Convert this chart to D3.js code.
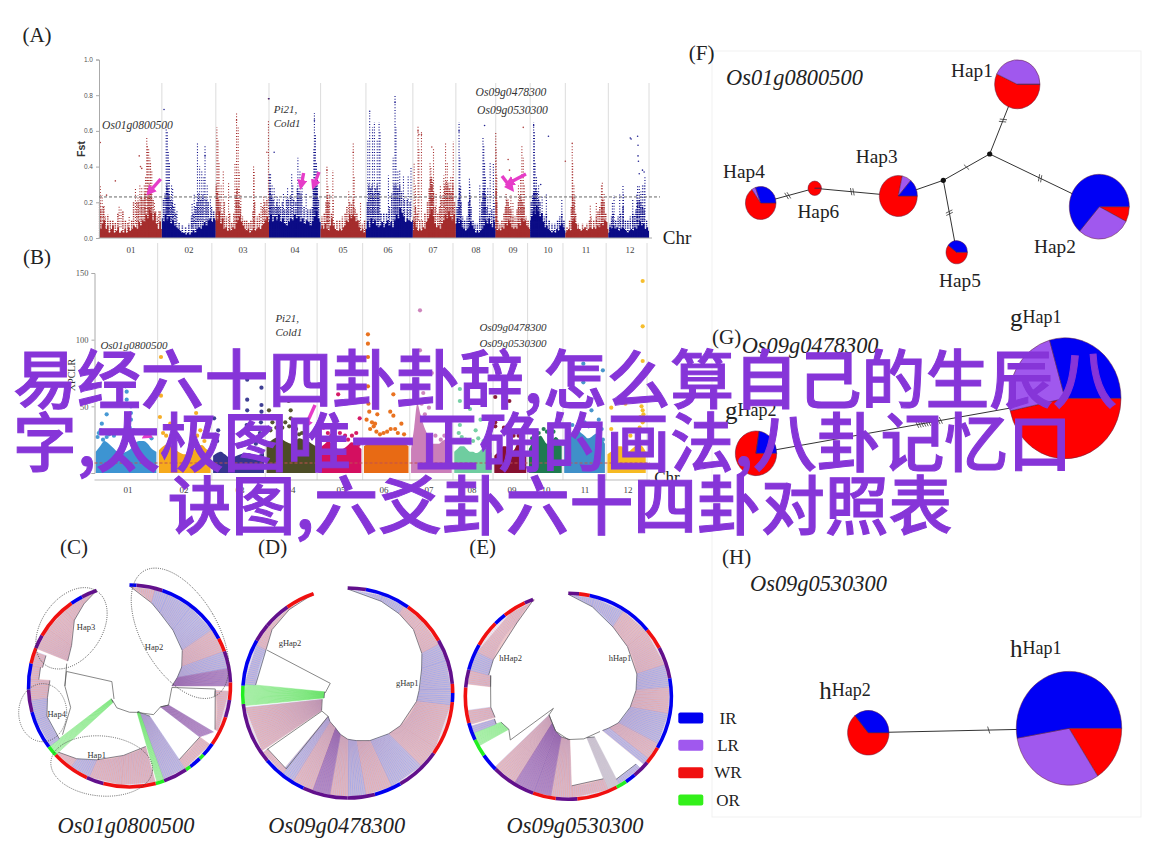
<!DOCTYPE html>
<html><head><meta charset="utf-8">
<script src="https://cdn.jsdelivr.net/npm/d3@7/dist/d3.min.js"></script>
<style>html,body{margin:0;padding:0;background:#fff}svg{display:block}</style>
</head><body><svg id="c" width="1154" height="866"></svg>
<script>
// ---------- Manhattan data ----------
const chromNames=["01","02","03","04","05","06","07","08","09","10","11","12"];
const chromLengths=[40.2,34.5,34,33,29,30,27.5,25.5,22,22.5,27.5,26];
const fstEnvelope=[
[.09,.05,.08,.10,.05,.07,.03,.05,.07,.03,.04,.06,.03,.04,.03,.05,.03,.06,.04,.05,.07,.06,.05,.09,.07,.10,.09,.13,.11,.16,.14,.10,.14,.08,.05,.09,.05],
[.11,.09,.13,.10,.12,.08,.10,.07,.06,.05,.04,.03,.03,.02,.03,.02,.03,.04,.03,.05,.06,.05,.07,.09,.07,.10,.11,.09,.11,.10],
[.14,.10,.15,.08,.11,.05,.06,.04,.05,.04,.06,.05,.08,.10,.12,.09,.07,.05,.04,.05,.03,.04,.05,.04,.05,.06,.05,.07,.08,.10,.12,.09],
[.10,.13,.09,.12,.10,.13,.09,.11,.08,.07,.09,.11,.10,.13,.11,.12,.09,.11,.08,.10,.09,.07,.09,.12,.15,.11,.09],
[.05,.07,.05,.08,.05,.04,.07,.11,.07,.05,.04,.04,.05,.04,.06,.07,.10,.09,.13,.11,.13,.12,.09,.10,.06,.04,.05,.03,.05],
[.05,.09,.06,.11,.08,.10,.07,.06,.07,.09,.06,.08,.10,.07,.09,.06,.10,.13,.11,.17,.14,.12,.09,.11,.10,.09,.10],
[.04,.09,.06,.04,.05,.04,.06,.05,.09,.11,.13,.16,.12,.08,.06,.07,.05,.08,.10,.13,.11,.15,.12,.10,.13,.08],
[.08,.11,.08,.10,.06,.05,.04,.05,.06,.09,.07,.05,.03,.04,.03,.04,.05,.07,.10,.08,.11,.08,.06,.09,.05],
[.05,.04,.05,.04,.06,.05,.08,.07,.10,.08,.06,.05,.06,.05,.08,.07,.11,.09,.10,.07,.06,.05],
[.10,.12,.15,.13,.18,.15,.12,.14,.09,.06,.07,.05,.04,.03,.04,.03,.05,.04,.07,.08,.06,.04],
[.03,.04,.05,.04,.09,.11,.08,.05,.05,.04,.05,.06,.04,.05,.06,.05,.06,.05,.07,.06,.08,.07,.10,.09,.05],
[.03,.06,.05,.07,.05,.06,.04,.05,.06,.05,.04,.03,.04,.05,.04,.06,.05,.07,.09,.07,.08,.05,.06,.04]];
const fstSpeckle=[
[[1,.2],[3,.16],[7,.18],[10,.12],[14,.13],[18,.1],[22,.1],[26,.09],[30,.14],[38,.15],[42,.1],[46,.09],[52,.1],[55,.2],[60,.2],[63,.2],[67,.23],[70,.22],[73,.25],[78,.28],[80,.3],[83,.25],[86,.22],[90,.15],[93,.12],[97,.15]],
[[3,.22],[6,.25],[9,.3],[11,.28],[13,.24],[16,.22],[19,.2],[22,.18],[26,.14],[32,.09],[38,.07],[44,.06],[50,.08],[55,.12],[58,.14],[62,.18],[65,.2],[68,.25],[72,.22],[76,.24],[82,.22],[86,.2],[92,.18],[96,.15]],
[[1,.3],[3,.26],[5,.22],[8,.2],[12,.14],[16,.2],[20,.12],[26,.14],[30,.09],[34,.14],[38,.24],[40,.28],[43,.22],[46,.18],[50,.12],[54,.1],[58,.1],[62,.09],[66,.1],[70,.15],[73,.2],[78,.12],[82,.14],[88,.18],[92,.2],[96,.22]],
[[2,.28],[5,.24],[8,.22],[12,.18],[15,.2],[18,.18],[22,.18],[26,.2],[30,.16],[34,.22],[38,.22],[42,.24],[48,.22],[52,.2],[55,.28],[58,.26],[62,.25],[68,.18],[75,.16],[80,.16],[84,.18],[86,.3],[89,.32],[91,.3],[93,.28],[96,.22]],
[[3,.12],[8,.14],[12,.2],[15,.24],[18,.2],[24,.14],[30,.09],[36,.1],[42,.1],[48,.12],[54,.14],[58,.18],[64,.2],[68,.19],[72,.22],[76,.17],[80,.14],[85,.1],[92,.08],[97,.1]],
[[3,.2],[6,.3],[10,.28],[13,.3],[16,.25],[20,.28],[24,.3],[27,.26],[32,.14],[38,.14],[44,.14],[50,.18],[55,.25],[60,.3],[64,.3],[68,.28],[72,.3],[76,.26],[82,.22],[88,.22],[94,.2]],
[[2,.12],[6,.18],[10,.14],[16,.1],[22,.1],[28,.14],[34,.2],[38,.28],[41,.33],[43,.34],[45,.3],[48,.26],[52,.18],[58,.14],[62,.18],[66,.22],[70,.24],[74,.3],[78,.32],[81,.3],[85,.28],[89,.26],[93,.3],[97,.2]],
[[3,.18],[6,.22],[9,.28],[13,.2],[17,.12],[22,.1],[28,.12],[32,.2],[35,.24],[38,.18],[43,.1],[48,.08],[54,.08],[60,.12],[65,.2],[68,.26],[71,.28],[74,.24],[78,.18],[84,.14],[90,.16],[95,.12]],
[[1,.28],[3,.2],[6,.1],[12,.08],[18,.1],[24,.14],[28,.18],[32,.22],[36,.2],[40,.18],[44,.16],[50,.12],[56,.12],[62,.16],[66,.2],[70,.24],[74,.22],[78,.2],[82,.18],[88,.12],[94,.1]],
[[3,.2],[7,.24],[10,.26],[13,.26],[16,.28],[20,.26],[24,.22],[28,.2],[34,.14],[40,.12],[46,.14],[54,.1],[62,.08],[70,.08],[78,.1],[84,.12],[90,.14],[96,.1]],
[[4,.06],[10,.1],[14,.18],[17,.24],[20,.2],[24,.14],[30,.08],[40,.08],[50,.08],[56,.1],[60,.12],[66,.1],[72,.12],[76,.15],[80,.18],[84,.2],[87,.22],[90,.2],[94,.14]],
[[4,.08],[8,.12],[12,.14],[18,.1],[24,.12],[30,.14],[36,.18],[42,.1],[48,.1],[54,.12],[60,.14],[64,.13],[68,.16],[72,.2],[76,.22],[80,.2],[84,.18],[88,.16],[94,.1]]];
const fstStems=[
[[2,.08,.30],[5,.08,.24],[8,.08,.18],[32,.06,.18],[35,.06,.17],[48,.05,.12],[58,.08,.28],[62,.08,.24],[65,.1,.3],[68,.1,.28],[72,.1,.3],[74,.1,.34],[76,.1,.57],[77,.1,.52],[79,.1,.5],[81,.1,.45],[82,.1,.43],[84,.1,.38],[88,.08,.2],[95,.08,.15]],
[[8,.1,.62],[10,.1,.6],[12,.1,.48],[14,.1,.42],[18,.1,.3],[20,.08,.28],[24,.06,.2],[28,.05,.15],[56,.06,.2],[60,.08,.25],[66,.1,.53],[70,.1,.4],[74,.1,.38],[78,.1,.35],[80,.1,.52],[84,.1,.3],[90,.1,.22]],
[[2,.1,.62],[4,.1,.55],[6,.1,.42],[10,.1,.3],[14,.1,.38],[24,.05,.31],[36,.08,.42],[39,.08,.7],[42,.08,.62],[44,.08,.38],[47,.06,.24],[71,.05,.4],[72,.05,.38],[85,.08,.2],[90,.1,.24],[93,.1,.16],[99,.1,.66]],
[[1,.1,.36],[3,.1,.36],[6,.1,.3],[10,.1,.28],[16,.1,.24],[20,.1,.22],[28,.1,.25],[36,.1,.28],[44,.1,.36],[46,.1,.3],[56,.1,.45],[60,.1,.38],[64,.1,.3],[72,.1,.25],[87,.1,.5],[88,.1,.7],[90,.1,.58],[92,.1,.42],[94,.1,.38]],
[[14,.08,.40],[16,.08,.30],[20,.08,.25],[27,.08,.38],[28,.08,.22],[62,.1,.26],[72,.1,.53],[74,.1,.35],[88,.05,.2]],
[[4,.1,.55],[8,.1,.7],[14,.1,.62],[18,.1,.65],[24,.1,.55],[28,.1,.65],[30,.1,.6],[48,.08,.35],[58,.1,.45],[62,.1,.8],[64,.1,.62],[68,.1,.38],[72,.12,.38],[80,.12,.35],[90,.12,.35],[96,.12,.4]],
[[3,.05,.42],[6,.1,.3],[12,.1,.63],[14,.1,.5],[20,.1,.6],[40,.1,.42],[42,.12,.4],[44,.12,.34],[46,.12,.32],[48,.1,.5],[54,.1,.25],[64,.08,.3],[72,.08,.35],[76,.1,.53],[80,.1,.42],[84,.1,.32],[88,.1,.35],[92,.1,.35],[94,.1,.54]],
[[8,.1,.65],[10,.1,.45],[12,.08,.3],[34,.06,.34],[35,.06,.3],[60,.1,.3],[68,.1,.57],[70,.1,.52],[72,.1,.42],[74,.1,.35],[80,.1,.28],[86,.1,.42],[94,.08,.42],[96,.08,.2]],
[[0,.05,.6],[1,.1,.5],[3,.08,.35],[30,.1,.25],[36,.1,.22],[44,.08,.24],[50,.08,.2],[66,.1,.3],[72,.1,.35],[76,.1,.52],[80,.1,.45],[83,.1,.3]],
[[10,.1,.65],[12,.1,.6],[14,.1,.42],[18,.1,.34],[24,.1,.3],[34,.1,.24],[46,.05,.25],[90,.05,.22]],
[[16,.1,.52],[17,.1,.42],[20,.1,.3],[22,.08,.24],[58,.05,.18],[72,.08,.2],[84,.1,.3],[86,.1,.32],[90,.1,.25]],
[[10,.05,.2],[14,.05,.24],[28,.05,.25],[36,.05,.3],[37,.05,.25],[60,.05,.22],[70,.08,.25],[72,.08,.3],[76,.08,.3],[80,.1,.26],[84,.1,.3],[88,.1,.3],[90,.1,.34]]];
const fstPoints=[
[[2,.535],[26,.32],[12,.24],[64,.46],[66,.4],[68,.39]],
[[4,.72],[80,.46]],
[[99,.78],[96,.48],[39,.66]],
[[0,.78],[10,.48],[88,.66]],
[[72,.48],[14,.38]],
[[8,.71],[62,.76]],
[[12,.6],[14,.58],[20,.58],[44,.51]],
[[72,.63],[8,.6]],
[[80,.62],[36,.44],[40,.38]],
[[52,.57],[30,.3],[10,.63]],
[[0,.43],[16,.53]],
[[54,.56],[56,.555],[72,.57],[73,.52],[73,.46],[74,.43],[76,.36],[84,.38],[88,.37]]];
const xpclrEnvelope=[
[16,20,24,22,19,16,15,16,18,22,24,24,22,18,16],
[17,20,22,20,17,15,14,15,17,20,21,18,16],
[13,15,16,14,12,12,13,14,15,15,14,13,14,15],
[22,24,26,27,25,23,22,24,26,25,24,22,20],
[18,20,22,24,22,20,18,18,19,21,23,22,20,18],
[20,22,23,22,24,23,22,22,23,24,24,23,22,20],
[18,34,52,44,36,30,24,22,22,22,24,25,24,20],
[16,18,20,20,18,16,16,15,16,18,18,17,15],
[13,15,17,20,20,17,16,18,22,20,16,14],
[18,22,25,27,28,25,22,22,25,27,25,20],
[22,26,28,30,32,30,28,26,27,29,30,26,22],
[14,16,18,20,20,17,16,18,20,22,20,16]];
const xpclrPoints=[
[[49,65],[51,61],[51,55],[58,50],[58,45],[18,44],[10,37],[58,40],[3,27],[18,27],[12,25],[5,30],[8,32],[14,30],[22,29],[30,28],[56,34],[62,32],[70,30],[76,31],[84,28],[92,26]],
[[4,87],[4,58],[2,42],[72,45],[22,37],[80,32],[8,30],[14,28],[30,26],[66,30],[74,28],[88,24]],
[[67,70],[95,64],[67,55],[95,51],[67,47],[95,46],[2,41],[8,24],[10,32],[66,36],[68,30],[94,38],[92,30],[74,24],[84,22]],
[[5,47],[45,54],[49,47],[32,34],[8,32],[49,41],[66,29],[12,38],[20,34],[38,38],[46,35],[55,32],[60,33],[72,30],[80,32]],
[[46,59],[96,41],[12,34],[69,25],[93,21],[22,30],[30,28],[50,30],[62,28],[78,28],[88,30]],
[[9,104],[9,97],[9,87],[9,65],[66,59],[10,52],[30,44],[59,46],[66,43],[25,37],[84,37],[70,33],[12,46],[18,38],[22,35],[6,40],[14,33],[28,31],[36,29],[44,30],[52,31],[60,33],[76,30],[90,29]],
[[22,122],[22,92],[51,75],[44,49],[73,25],[30,60],[26,52],[34,44],[60,28],[82,28]],
[[15,63],[15,54],[15,36],[42,48],[70,40],[57,32],[12,30],[20,27],[30,25],[50,24],[64,26],[78,24]],
[[3,57],[47,54],[30,51],[3,38],[3,35],[50,36],[30,34],[44,30],[60,28],[76,28]],
[[30,30],[45,33],[10,26],[55,31],[75,31]],
[[47,82],[95,77],[47,68],[67,47],[85,40],[92,33],[45,44],[95,25],[20,36],[50,38],[60,35],[75,36]],
[[92,144],[92,110],[47,79],[92,84],[10,49],[47,52],[89,50],[92,47],[92,38],[10,33],[86,42],[94,44],[84,34],[90,32],[60,28]]];
const fstTicks=[0,.2,.4,.6,.8,1];
const xpclrTicks=[0,50,100,150];
const fstThreshold=.23, xpclrThreshold=7.5;
const xpclrColors=["#3d94d2","#f6aa1c","#35358e","#4c4c26","#d40f60","#e86a14","#cb7fb9","#6fcda0","#861030","#1f7a50","#3f90c9","#f6ba22"];
const fstColors=["#a52d2d","#0c0c86"];

// ---------- Fan (haplotype tree) data: angles clockwise from top, radii as share of rim ----------
const popColors={I:"#0000f0",W:"#f01010",M:"#62108c",G:"#22ee22"};
const rimC=[[0,4,"I"],[4,19,"M"],[19,62,"I"],[62,70,"W"],[70,88,"M"],[88,98,"W"],[98,108,"M"],[108,125,"W"],[125,133,"I"],[133,136,"G"],[136,143,"I"],[143,146,"G"],[146,160,"M"],[160,165,"G"],[165,195,"W"],[195,205,"M"],[205,227,"W"],[227,233,"G"],[233,255,"I"],[255,268,"M"],[268,283,"I"],[283,292,"W"],[292,300,"M"],[300,325,"W"],[325,332,"I"],[332,341,"M"]];
const rimD=[[0,10,"M"],[10,35,"I"],[35,60,"W"],[60,85,"M"],[85,90,"W"],[90,95,"I"],[95,125,"W"],[125,150,"M"],[150,165,"I"],[165,180,"M"],[180,205,"M"],[205,230,"I"],[230,264,"M"],[264,274,"G"],[274,300,"I"],[300,310,"M"],[310,325,"M"],[325,341,"W"]];
const rimE=[[0,6,"M"],[6,12,"W"],[12,50,"I"],[50,62,"W"],[62,80,"M"],[80,120,"I"],[120,130,"W"],[130,140,"M"],[140,146,"I"],[146,152,"G"],[152,175,"W"],[175,187,"M"],[187,200,"W"],[200,225,"M"],[225,235,"I"],[235,245,"G"],[245,255,"I"],[255,275,"W"],[275,285,"M"],[285,300,"I"],[300,315,"W"],[315,322,"I"],[322,335,"W"],[335,340,"M"]];
const fanC=[[0,15,.99,.85,"r"],[15,23,.85,.78,"b"],[23,38,.78,.70,"b"],[38,56,.70,.63,"b"],[56,70,.63,.55,"r"],[70,80,.55,.48,"b"],[80,90,.48,.42,"p"],[93,117,.85,.95,"r"],[116,124,.43,.37,"p",118.7,126,.95,.86],[146,162,.36,.27,"b"],[126,146,.86,.88,"r"],[159,164,.27,.27,"g",160,164],[165,185,.62,.69,"r"],[185,204,.69,.80,"r"],[204,216,.80,.89,"b"],[216,228,.89,.97,"r"],[225,235,.23,.22,"g",227,233],[233,250,.87,.87,"b"],[250,262,.87,.82,"b"],[262,274,.82,.79,"r"],[274,282,.90,.90,"r"],[282,290,.88,.88,"r"],[292,305,.66,.70,"r"],[305,320,.70,.85,"r"],[320,331,.85,.93,"r"],[331,341,.93,1,"r"]];
const fanD=[[0,20,.99,.93,"b"],[20,33,.93,.90,"b"],[33,46,.90,.87,"r"],[46,62,.87,.80,"r"],[62,72,.80,.74,"b"],[72,88,.74,.68,"b"],[88,97,.68,.66,"b"],[97,122,.66,.59,"r"],[122,135,.59,.55,"r"],[135,155,.55,.50,"b"],[155,170,.50,.46,"r"],[170,180,.46,.44,"b"],[180,190,.44,.40,"r"],[190,200,.40,.35,"p"],[200,212,.35,.32,"r"],[212,220,.32,.29,"b"],[219,235,.93,.93,"r"],[236,256,.30,.25,"r",236,262],[258,273,.23,.22,"g",263,275],[275,298,.88,.88,"b"],[298,310,.88,.94,"r"],[310,325,.94,.97,"r"],[325,341,.97,1,"r"]];
const fanE=[[0,15,.99,.90,"b"],[15,33,.90,.80,"b"],[33,50,.80,.75,"r"],[50,72,.75,.70,"r"],[72,85,.70,.66,"b"],[85,100,.66,.61,"r"],[100,118,.61,.55,"b"],[118,128,.55,.50,"r"],[128,135,.50,.47,"b",128,132],[147,156,.47,.44,"w",150,157],[135,150,.93,.93,"b"],[157,178,.87,.87,"r"],[178,190,.42,.40,"r"],[190,200,.40,.36,"p"],[200,212,.36,.30,"p"],[212,226,.30,.26,"r"],[241,249,.66,.70,"g"],[249,253,.75,.75,"b"],[254,262,.74,.76,"r"],[277,285,.76,.78,"r"],[285,296,.80,.81,"b"],[296,325,.81,.87,"r"],[325,340.5,.87,1,"r"]];
const linesC=[[[231,.22],[210,.25],[180,.26],[165,.27],[140,.37],[124,.37],[116,.43],[92,.42],[92,.85],[97,.85]],[[283,.64],[284,.18],[230,.2]],[[289.6,.66],[270,.64],[250,.62],[234,.82]],[[283,.64],[270,.64]]];
const linesD=[[[270,.215],[299,.19],[298,.87]],[[235,.30],[220,.29]],[[219,.93],[220,.29]],[[235,.94],[235,.30]]];
const linesE=[[[233,.705],[231,.186],[226,.26]],[[226,.26],[200,.36],[180,.42],[160,.44],[138,.46]],[[241,.66],[233,.705]],[[262,.76],[277,.76],[285,.78]]];

// ---------- Haplotype network data ----------
const popNames=["WR","LR","IR"];
const popFill={WR:"#ff0000",LR:"#a058ee",IR:"#0000f5"};
const hapNames=["Hap1","Hap2","Hap3","Hap4","Hap5","Hap6","gHap1","gHap2","hHap1","hHap2"];
const hapWR=[205,27,282,235,218,360,168,279,57,230];
const hapLR=[155,104,29,15,0,0,86,0,113,0];
const hapIR=[0,229,49,110,142,0,106,81,190,130];
const hapSizes=[22.7,30,19,15.3,10.7,6.7,56,20.7,52.7,20.7];
const hapCenters=[[1017.3,84.3],[1099.3,206.7],[898.3,196],[760.7,203],[956.7,252.3],[814.7,188.3],[1065,398.3],[756,453.3],[1069,728.3],[868.3,732.7]];
const junctions=[[989.7,154],[943.3,180.3]];
const edges=[[[1017.3,84.3],[989.7,154],.52,2],[[989.7,154],[1099.3,206.7],.46,2],[[989.7,154],[943.3,180.3],.5,1],[[943.3,180.3],[898.3,196],.8,1],[[943.3,180.3],[956.7,252.3],.45,2],[[898.3,196],[814.7,188.3],.55,2],[[814.7,188.3],[760.7,203],.5,2],[[756,453.3],[1065,398.3],.56,11],[[868.3,732.7],[1069,728.3],.6,1]];
const legendNames=["IR","LR","WR","OR"];
const legendColors=["#0000f0","#a058ee","#f01010","#33f01a"];
const watermark=["易经六十四卦卦辞,怎么算自己的生辰八","字,太极图唯一正确的画法,八卦记忆口","诀图,六爻卦六十四卦对照表"];

// ---------- Drawing ----------
const svg=d3.select("#c");
const SERIF="'Liberation Serif','Times New Roman',serif";
const SANS="'Liberation Sans',Arial,sans-serif";
const text=(x,y,s,o={})=>svg.append("text").attr("x",x).attr("y",y).attr("dominant-baseline","central")
  .attr("text-anchor",o.a||"middle").attr("font-family",o.f||SERIF).attr("font-size",o.s||12)
  .attr("font-style",o.i?"italic":null).attr("font-weight",o.b?"bold":null).attr("fill",o.c||"#222")
  .attr("transform",o.r?`rotate(${o.r} ${x} ${y})`:null).text(s);

svg.append("rect").attr("x",712).attr("y",51).attr("width",429).attr("height",766).attr("fill","none").attr("stroke","#f1f1f1");

const starts=d3.cumsum([0].concat(chromLengths));
function manhattan(cfg){
  const x=d3.scaleLinear().domain([0,starts[12]]).range(cfg.xr);
  const y=d3.scaleLinear().domain(cfg.yd).range(cfg.yr);
  const g=svg.append("g");
  g.selectAll("line.b").data(starts.slice(1)).join("line").attr("x1",d=>x(d)).attr("x2",d=>x(d))
    .attr("y1",cfg.gridTop).attr("y2",cfg.gridBot).attr("stroke","#dcdcdc").attr("stroke-width",1);
  chromNames.forEach((n,i)=>{
    const pos=d3.scaleLinear().domain([0,100]).range([starts[i]+cfg.inset,starts[i]+chromLengths[i]-cfg.inset]);
    const col=cfg.color(i), env=cfg.env[i];
    const area=d3.area().x((d,k)=>x(pos(k*100/(env.length-1)))).y0(y(0)).y1(d=>y(d)).curve(cfg.curve);
    g.append("path").attr("d",area(env)).attr("fill",col);
    if(cfg.speckle) g.selectAll(null).data(cfg.speckle[i]).join("line")
      .attr("x1",d=>x(pos(d[0]))).attr("x2",d=>x(pos(d[0]))).attr("y1",y(0)).attr("y2",d=>y(d[1]))
      .attr("stroke",col).attr("stroke-width",1.5).attr("stroke-dasharray","1.2 1.1");
    if(cfg.stems) g.selectAll(null).data(cfg.stems[i]).join("line")
      .attr("x1",d=>x(pos(d[0]))).attr("x2",d=>x(pos(d[0]))).attr("y1",d=>y(d[1])).attr("y2",d=>y(d[2]))
      .attr("stroke",col).attr("stroke-width",1.1).attr("stroke-dasharray","1 1.8");
    g.selectAll(null).data(cfg.points[i]).join("circle")
      .attr("cx",d=>x(pos(d[0]))).attr("cy",d=>y(d[1])).attr("r",cfg.r).attr("fill",col).attr("opacity",cfg.op);
    text(cfg.labelX[i],cfg.labelY,n,{s:cfg.labelS,c:"#444"});
  });
  const ax=g.append("g").attr("transform",`translate(${cfg.xr[0]},0)`)
    .call(d3.axisLeft(y).tickValues(cfg.ticks).tickFormat(cfg.fmt).tickSize(3));
  ax.selectAll("text").attr("font-family",cfg.tickF).attr("font-size",cfg.tickS).attr("fill","#555");
  ax.selectAll("line,path").attr("stroke","#aaa");
  g.append("line").attr("x1",cfg.xr[0]).attr("x2",cfg.dashEnd).attr("y1",y(cfg.thr)).attr("y2",y(cfg.thr))
    .attr("stroke",cfg.dashC).attr("stroke-width",1).attr("stroke-dasharray","3 2");
}
manhattan({xr:[99,649],yd:[0,1],yr:[238,59.5],gridTop:83,gridBot:238,inset:0,env:fstEnvelope,speckle:fstSpeckle,stems:fstStems,points:fstPoints,
  color:i=>fstColors[i%2],r:.8,op:.9,curve:d3.curveStep,labelX:[131,189,243,295,343,388,433,476,513,548,586,630],labelY:250,labelS:9,
  ticks:fstTicks,fmt:d3.format(".1f"),tickF:SANS,tickS:6.5,thr:fstThreshold,dashEnd:660,dashC:"#666"});
svg.append("line").attr("x1",99).attr("x2",652).attr("y1",238).attr("y2",238).attr("stroke","#aaa");
manhattan({xr:[94.5,647],yd:[0,150],yr:[473,273],gridTop:243,gridBot:480,inset:.8,env:xpclrEnvelope,points:xpclrPoints,
  color:i=>xpclrColors[i],r:2.1,op:.95,curve:d3.curveMonotoneX,labelX:[128,184,240,291,341,384,429,472,512,546,585,628],labelY:490,labelS:9,
  ticks:xpclrTicks,fmt:d3.format("d"),tickF:SERIF,tickS:8.5,thr:xpclrThreshold,dashEnd:650,dashC:"#c05050"});
svg.append("line").attr("x1",94.5).attr("x2",650).attr("y1",480).attr("y2",480).attr("stroke","#bbb");

text(81,149,"Fst",{f:SANS,s:10.5,b:1,r:-90,c:"#333"});
text(71,375,"XPCLR",{s:10,r:-90,c:"#333"});
text(677,237,"Chr",{s:19,c:"#222"});
text(667,477,"Chr",{s:17,c:"#222"});

const arrows=[[160.7,179,149.6,191.7],[303.6,173,301.3,185],[319,172,314,185],[502,176,511,188],[526,174,509,183],[315,405,306,425],[156,430,146,436]];
svg.append("defs").append("marker").attr("id","ah").attr("viewBox","0 0 6 6").attr("refX",3).attr("refY",3)
  .attr("markerWidth",3).attr("markerHeight",3).attr("orient","auto").append("path").attr("d","M0,0L6,3L0,6Z").attr("fill","#e63cc8");
svg.selectAll("line.arrow").data(arrows).join("line").attr("x1",d=>d[0]).attr("y1",d=>d[1]).attr("x2",d=>d[2]).attr("y2",d=>d[3])
  .attr("stroke","#e63cc8").attr("stroke-width",3.4).attr("marker-end","url(#ah)");

const gl=[[137.5,125,"Os01g0800500",11.6],[511,92,"Os09g0478300",11.6],[512.5,110.7,"Os09g0530300",11.6],[134,345,"Os01g0800500",11],[513,326.7,"Os09g0478300",11],[513,343,"Os09g0530300",11]];
gl.forEach(d=>text(d[0],d[1],d[2],{i:1,s:d[3],c:"#333"}));
[[273.7,109,"Pi21,"],[273.7,123,"Cold1"],[275.4,317.7,"Pi21,"],[275.4,331.7,"Cold1"]].forEach(d=>text(d[0],d[1],d[2],{i:1,s:11,a:"start",c:"#333"}));

const fanStyle={r:{fill:"#eec9cc",line:["#d27c88","#9a9ad8"]},b:{fill:"#c9cbee",line:["#7474da","#cf96a2"]},p:{fill:"#c9aada",line:["#6a3a9e","#8a4a8a"]},g:{fill:"#d4f6d4",line:["#3ede3e","#3ede3e"]},w:{fill:"#d6cfdc",line:["#b8b0c4","#c4b8c0"]}};
function fanTree(cx,cy,R,rim,fans,lines){
  const g=svg.append("g").attr("transform",`translate(${cx},${cy})`);
  const ang=d3.scaleLinear().domain([0,360]).range([0,2*Math.PI]);
  const rad=d3.scaleLinear().domain([0,1]).range([0,R]);
  const lp=(a,f)=>d3.pointRadial(ang(a),rad(f));
  fans.forEach(f=>{
    const [a0,a1,r0,r1,c]=f, o0=f.length>5?f[5]:a0, o1=f.length>5?f[6]:a1, e0=f.length>7?f[7]:.985, e1=f.length>7?f[8]:.985;
    const st=fanStyle[c];
    g.append("path").attr("d",d3.line()([lp(a0,r0),lp(a1,r1),lp(o1,e1),lp(o0,e0)])+"Z").attr("fill",st.fill);
    const n=Math.max(4,Math.round(Math.abs(o1-o0)/.6));
    g.selectAll(null).data(d3.range(n+1)).join("line").each(function(k){
      const t=k/n,p=lp(a0+(a1-a0)*t,r0+(r1-r0)*t),q=lp(o0+(o1-o0)*t,e0+(e1-e0)*t);
      d3.select(this).attr("x1",p[0]).attr("y1",p[1]).attr("x2",q[0]).attr("y2",q[1])
        .attr("stroke",st.line[k%2]).attr("stroke-width",.4).attr("opacity",.85);
    });
    g.append("path").attr("d",d3.line()([lp(a0,r0),lp(a1,r1)])).attr("stroke","#3a3a4a").attr("stroke-width",.6).attr("fill","none");
  });
  lines.forEach(l=>g.append("path").attr("d",d3.line()(l.map(d=>lp(d[0],d[1])))).attr("fill","none").attr("stroke","#555").attr("stroke-width",.7));
  const arc=d3.arc().innerRadius(R-1.8).outerRadius(R+1.8);
  g.selectAll(null).data(rim).join("path").attr("d",d=>arc({startAngle:ang(d[0]),endAngle:ang(d[1])})).attr("fill",d=>popColors[d[2]]);
}
fanTree(129.5,686,101,rimC,fanC,linesC);
fanTree(347.7,693,105,rimD,fanD,linesD);
fanTree(568.3,696.3,103,rimE,fanE,linesE);

[[71.5,628.3,30,45,35],[180,633.3,38,72,-30],[42.7,712.7,24,29,0],[101.7,766,51,30,5]].forEach(d=>
  svg.append("ellipse").attr("cx",0).attr("cy",0).attr("rx",d[2]).attr("ry",d[3])
   .attr("transform",`translate(${d[0]},${d[1]}) rotate(${d[4]})`).attr("fill","none").attr("stroke","#444").attr("stroke-width",.8).attr("stroke-dasharray","1 1.2"));

[[86,627.3,"Hap3"],[154,646.7,"Hap2"],[56.7,714,"Hap4"],[96.7,755,"Hap1"],[290,643.3,"gHap2"],[407.3,683.3,"gHap1"],[510.7,658.3,"hHap2"],[620,658.3,"hHap1"]]
 .forEach(d=>text(d[0],d[1],d[2],{s:8.5,c:"#333"}));
[[126,825,"Os01g0800500"],[336.7,825,"Os09g0478300"],[575,825,"Os09g0530300"]].forEach(d=>text(d[0],d[1],d[2],{i:1,s:22.4,c:"#222"}));

const ly=d3.scalePoint().domain(legendNames).range([718,800]);
legendNames.forEach((n,i)=>{
  svg.append("rect").attr("x",678.3).attr("y",ly(n)-5.5).attr("width",25).attr("height",11).attr("rx",2).attr("fill",legendColors[i]);
  text(728,ly(n),n,{s:17,c:"#222"});
});

edges.forEach(e=>{
  const [a,b,t,n]=e;
  svg.append("line").attr("x1",a[0]).attr("y1",a[1]).attr("x2",b[0]).attr("y2",b[1]).attr("stroke","#333").attr("stroke-width",1);
  const dx=b[0]-a[0],dy=b[1]-a[1],L=Math.hypot(dx,dy),ux=dx/L,uy=dy/L;
  d3.range(n).forEach(k=>{
    const s=t*L+(k-(n-1)/2)*2.4, px=a[0]+ux*s, py=a[1]+uy*s;
    svg.append("line").attr("x1",px-uy*3.5+ux).attr("y1",py+ux*3.5+uy).attr("x2",px+uy*3.5-ux).attr("y2",py-ux*3.5-uy).attr("stroke","#333").attr("stroke-width",.8);
  });
});
svg.selectAll("circle.j").data(junctions).join("circle").attr("cx",d=>d[0]).attr("cy",d=>d[1]).attr("r",2.6).attr("fill","#111");
const pie=d3.pie().sort(null).value(d=>d.v).startAngle(Math.PI/2).endAngle(Math.PI*2.5);
hapNames.forEach((h,i)=>{
  const vals=[hapWR[i],hapLR[i],hapIR[i]].map((v,k)=>({v,k:popNames[k]}));
  const g=svg.append("g").attr("transform",`translate(${hapCenters[i][0]},${hapCenters[i][1]}) scale(1,1.08)`);
  const arc=d3.arc().innerRadius(0).outerRadius(hapSizes[i]);
  g.selectAll("path").data(pie(vals)).join("path").attr("d",arc).attr("fill",d=>popFill[d.data.k]).attr("stroke","#602040").attr("stroke-width",.5);
});
[[972,70.7,"Hap1"],[1055,246.7,"Hap2"],[876.7,156.7,"Hap3"],[744,171,"Hap4"],[960,280.7,"Hap5"],[818.3,211.7,"Hap6"]].forEach(d=>text(d[0],d[1],d[2],{s:19.3,c:"#222"}));
[[1010,316.7,"g","Hap1"],[725,410,"g","Hap2"],[1010,648,"h","Hap1"],[819.3,690,"h","Hap2"]].forEach(d=>{
  const t=text(d[0],d[1],"",{a:"start",s:18,c:"#222"});
  t.append("tspan").attr("font-size",25).text(d[2]);
  t.append("tspan").text(d[3]);
});
[[726,77.7,"Os01g0800500"],[741.7,345,"Os09g0478300"],[750,583.3,"Os09g0530300"]].forEach(d=>text(d[0],d[1],d[2],{i:1,s:22.4,a:"start",c:"#222"}));

[[37,35,"(A)"],[37,257,"(B)"],[74,547,"(C)"],[272.7,547,"(D)"],[482.7,547,"(E)"],[701.7,52.7,"(F)"],[726.7,337,"(G)"],[736.7,556.7,"(H)"]]
 .forEach(d=>text(d[0],d[1],d[2],{s:21,c:"#222"}));

[[565,375],[542.5,438],[560,501]].forEach((p,i)=>{
  text(p[0],p[1],watermark[i],{f:"'Noto Sans CJK SC'",s:63.8,c:"#8635d8"}).attr("font-weight",500).attr("stroke","#8635d8").attr("stroke-width",1);
});
</script></body></html>
